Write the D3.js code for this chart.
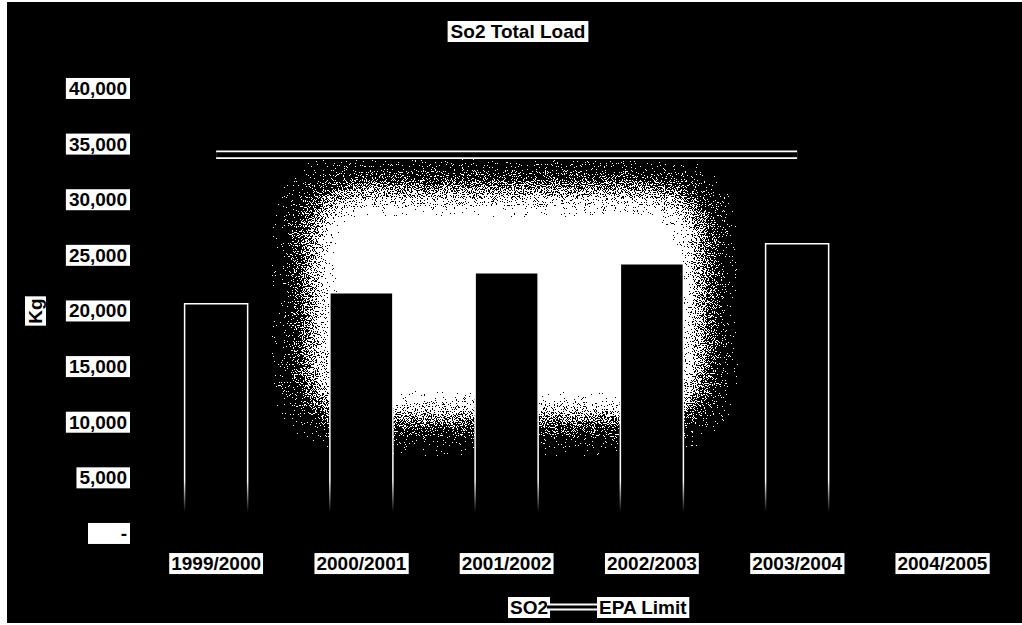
<!DOCTYPE html>
<html>
<head>
<meta charset="utf-8">
<script src="https://cdn.jsdelivr.net/npm/d3@7/dist/d3.min.js"></script>
<style>
  html, body { margin: 0; padding: 0; background: #fff; }
  svg { display: block; }
  text { font-family: "Liberation Sans", Arial, sans-serif; font-weight: bold; }
</style>
</head>
<body>
<svg id="chart" width="1022" height="625"></svg>
<script>
// SO2 annual load per reporting year, with the EPA limit
const categories = ["1999/2000", "2000/2001", "2001/2002", "2002/2003", "2003/2004", "2004/2005"];
const so2Load = [20600, 21600, 23400, 24200, 26000, null];
const epaLimit = [34000, 34000, 34000, 34000, 34000, null];
const yTicks = [0, 5000, 10000, 15000, 20000, 25000, 30000, 35000, 40000];

const W = 1022, H = 625;
const svg = d3.select("#chart");

const x = d3.scaleBand().domain(categories).range([143.5, 1015]).padding(0);
const y = d3.scaleLinear().domain([0, 40000]).range([533, 88]);
const barW = x.bandwidth() * 0.434;
const cx = d => x(d) + x.bandwidth() / 2;

const defs = svg.append("defs");

// soft, grainy glow behind the plot
const f = defs.append("filter").attr("id", "glow")
  .attr("filterUnits", "userSpaceOnUse")
  .attr("x", 150).attr("y", 100).attr("width", 750).attr("height", 460);
f.append("feGaussianBlur").attr("in", "SourceGraphic").attr("stdDeviation", 27).attr("result", "b");
f.append("feTurbulence").attr("type", "fractalNoise").attr("baseFrequency", 0.9)
  .attr("numOctaves", 2).attr("seed", 7).attr("result", "n");
f.append("feColorMatrix").attr("in", "n").attr("type", "matrix")
  .attr("values", "0 0 0 0 1  0 0 0 0 1  0 0 0 0 1  2 0 0 0 -0.5").attr("result", "nr");
f.append("feComposite").attr("in", "b").attr("in2", "nr").attr("operator", "arithmetic")
  .attr("k1", 0).attr("k2", 1.3).attr("k3", -1).attr("k4", 0.42).attr("result", "d");
const ct = f.append("feComponentTransfer").attr("in", "d").attr("result", "t");
ct.append("feFuncA").attr("type", "discrete").attr("tableValues", "0 1");
f.append("feFlood").attr("flood-color", "#fff").attr("result", "w");
f.append("feComposite").attr("in", "w").attr("in2", "t").attr("operator", "in");

// bar outline fades out toward the base
const g = defs.append("linearGradient").attr("id", "edge")
  .attr("gradientUnits", "userSpaceOnUse").attr("x1", 0).attr("x2", 0)
  .attr("y1", 0).attr("y2", H);
g.append("stop").attr("offset", 480 / H).attr("stop-color", "#fff").attr("stop-opacity", 1);
g.append("stop").attr("offset", 512 / H).attr("stop-color", "#fff").attr("stop-opacity", 0);

// page frame
svg.append("rect").attr("x", 7).attr("y", 2).attr("width", W - 7).attr("height", H - 4).attr("fill", "#000");

// glow core
svg.append("rect").attr("x", 312).attr("y", 192).attr("width", 388).attr("height", 224)
  .attr("fill", "#fff").attr("filter", "url(#glow)");

// bars
const barData = categories.map((c, i) => ({ c, v: so2Load[i] })).filter(d => d.v != null);
svg.append("g").selectAll("rect").data(barData).join("rect")
  .attr("x", d => cx(d.c) - barW / 2)
  .attr("y", d => y(d.v))
  .attr("width", barW)
  .attr("height", d => y(0) - y(d.v))
  .attr("fill", "#000");
svg.append("g").selectAll("path").data(barData).join("path")
  .attr("d", d => {
    const x0 = cx(d.c) - barW / 2, x1 = cx(d.c) + barW / 2;
    return `M${x0},${y(0)}V${y(d.v)}H${x1}V${y(0)}`;
  })
  .attr("fill", "none").attr("stroke", "url(#edge)").attr("stroke-width", 1.5);

// EPA limit: double line
const limitData = categories.map((c, i) => ({ c, v: epaLimit[i] })).filter(d => d.v != null);
const line = d3.line().x(d => cx(d.c)).y(d => y(d.v));
svg.append("path").datum(limitData).attr("d", line)
  .attr("fill", "none").attr("stroke", "#fff").attr("stroke-width", 8.5);
svg.append("path").datum(limitData).attr("d", line)
  .attr("fill", "none").attr("stroke", "#000").attr("stroke-width", 5);

// label with a white box behind it
function boxed(sel, padX, padY, minW) {
  sel.each(function () {
    const t = d3.select(this);
    const b = this.getBBox();
    const w = Math.max(b.width + 2 * padX, minW || 0);
    const anchor = t.attr("text-anchor");
    let bx = b.x - padX;
    if (anchor === "end") bx = b.x + b.width + padX - w;
    d3.select(this.parentNode).insert("rect", () => this)
      .attr("x", bx).attr("y", b.y - padY + 1)
      .attr("width", w).attr("height", b.height + 2 * padY - 2)
      .attr("fill", "#fff");
  });
}

// y axis
const yAxis = d3.axisLeft(y).tickValues(yTicks).tickSize(0).tickPadding(0)
  .tickFormat(d => d === 0 ? "-" : d3.format(",")(d));
const ya = svg.append("g").attr("transform", "translate(127,0)").call(yAxis);
ya.select(".domain").remove();
ya.selectAll("text").attr("font-size", 19).attr("fill", "#000")
  .attr("font-family", "Liberation Sans, Arial, sans-serif").attr("font-weight", "bold")
  .attr("text-anchor", "end").attr("dy", "0.34em");
ya.selectAll(".tick").each(function (d) {
  boxed(d3.select(this).select("text"), 3, 1, d === 0 ? 42 : 0);
});

// x axis
const xAxis = d3.axisBottom(x).tickSize(0).tickPadding(0);
const xa = svg.append("g").attr("transform", "translate(0,552)").call(xAxis);
xa.select(".domain").remove();
xa.selectAll("text").attr("font-size", 19).attr("fill", "#000")
  .attr("font-family", "Liberation Sans, Arial, sans-serif").attr("font-weight", "bold")
  .attr("dy", "0.95em");
xa.selectAll(".tick").each(function () { boxed(d3.select(this).select("text"), 2, 1); });

// title
const tg = svg.append("g");
tg.append("text").attr("x", 518).attr("y", 38).attr("text-anchor", "middle")
  .attr("font-size", 19).attr("fill", "#000").text("So2 Total Load");
boxed(tg.select("text"), 3, 1);

// y axis title
const kg = svg.append("g").attr("transform", "translate(42,311) rotate(-90)");
kg.append("text").attr("x", 0).attr("y", 0).attr("text-anchor", "middle")
  .attr("font-size", 19).attr("fill", "#000").text("Kg");
boxed(kg.select("text"), 2, 1);

// legend
const lg = svg.append("g");
lg.append("text").attr("x", 510).attr("y", 614).attr("font-size", 19).attr("fill", "#000").text("SO2");
boxed(lg.select("text"), 2, 1);
lg.append("line").attr("x1", 547).attr("x2", 597).attr("y1", 607).attr("y2", 607)
  .attr("stroke", "#fff").attr("stroke-width", 7);
lg.append("line").attr("x1", 547).attr("x2", 597).attr("y1", 607).attr("y2", 607)
  .attr("stroke", "#000").attr("stroke-width", 3);
const lt = lg.append("g");
lt.append("text").attr("x", 599).attr("y", 614).attr("font-size", 19).attr("fill", "#000").text("EPA Limit");
boxed(lt.select("text"), 2, 1);
</script>
</body>
</html>
